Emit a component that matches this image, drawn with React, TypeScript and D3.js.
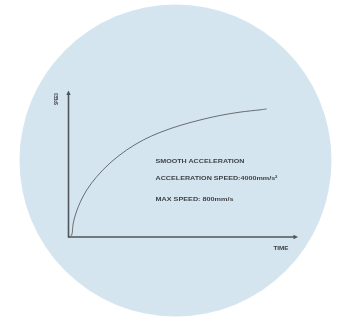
import * as d3 from "d3";

// speed curve (arbitrary units, 0..10)
const timeValues = [0.05, 0.14, 0.21, 0.43, 0.8, 1.24, 1.82, 2.55, 3.28, 4.01, 4.89, 5.77, 6.64, 7.52, 8.4, 8.69];
const speedValues = [0, 0.14, 0.97, 2.09, 3.24, 4.16, 5.1, 6.0, 6.69, 7.21, 7.69, 8.07, 8.38, 8.61, 8.77, 8.83];

const noteLines = [
  "SMOOTH ACCELERATION",
  "ACCELERATION SPEED:4000mm/s²",
  "MAX SPEED: 800mm/s",
];
const axisLabels = { x: "TIME", y: "SPEED" };

const W = 339;
const H = 319;

export default function App() {
  const x = d3.scaleLinear().domain([0, 10]).range([68.5, 296.5]);
  const y = d3.scaleLinear().domain([0, 10]).range([237, 92]);

  const pts = timeValues.map((t, i) => [t, speedValues[i]] as [number, number]);
  const line = d3
    .line<[number, number]>()
    .x((d) => x(d[0]))
    .y((d) => y(d[1]))
    .curve(d3.curveCatmullRom.alpha(0.5));

  const axisColor = "#4f5458";

  return (
    <svg
      width={W}
      height={H}
      style={{ position: "fixed", left: 0, top: 0, background: "#fff" }}
      fontFamily="Liberation Sans, Arial, sans-serif"
    >
      <defs>
        <filter id="soft" x="-5%" y="-5%" width="110%" height="110%">
          <feGaussianBlur stdDeviation="0.4" />
        </filter>
      </defs>
      <circle cx={175.5} cy={160.5} r={156} fill="#d5e5ef" filter="url(#soft)" />
      <g filter="url(#soft)">
        {/* axes */}
        <line x1={x(0)} x2={x(0)} y1={y(0) + 0.5} y2={y(10) + 2} stroke={axisColor} strokeWidth={1.6} />
        <line x1={x(0) - 0.5} x2={x(10) - 2} y1={y(0)} y2={y(0)} stroke={axisColor} strokeWidth={1.6} />
        <path
          d={`M${x(0) - 2.2},${y(10) + 3} L${x(0)},${y(10) - 1.5} L${x(0) + 2.2},${y(10) + 3} Z`}
          fill={axisColor}
        />
        <path
          d={`M${x(10) - 3},${y(0) - 2.2} L${x(10) + 1.5},${y(0)} L${x(10) - 3},${y(0) + 2.2} Z`}
          fill={axisColor}
        />
        {/* curve */}
        <path d={line(pts) ?? ""} fill="none" stroke="#5a5f63" strokeWidth={0.9} />
        {/* axis labels */}
        <text
          transform={`translate(58,105) rotate(-90)`}
          fontSize={5}
          fontWeight="bold"
          fill="#3a3f44"
          textLength={12}
          lengthAdjust="spacingAndGlyphs"
        >
          {axisLabels.y}
        </text>
        <text
          x={273.5}
          y={249.5}
          fontSize={5}
          fontWeight="bold"
          fill="#3a3f44"
          textLength={15}
          lengthAdjust="spacingAndGlyphs"
        >
          {axisLabels.x}
        </text>
        {/* notes */}
        {noteLines.map((s, i) => (
          <text
            key={s}
            x={155.5}
            y={[162.5, 180, 201][i]}
            fontSize={6}
            fontWeight="bold"
            fill="#3d4247"
            textLength={[89, 122, 78][i]}
            lengthAdjust="spacingAndGlyphs"
          >
            {s}
          </text>
        ))}
      </g>
    </svg>
  );
}
